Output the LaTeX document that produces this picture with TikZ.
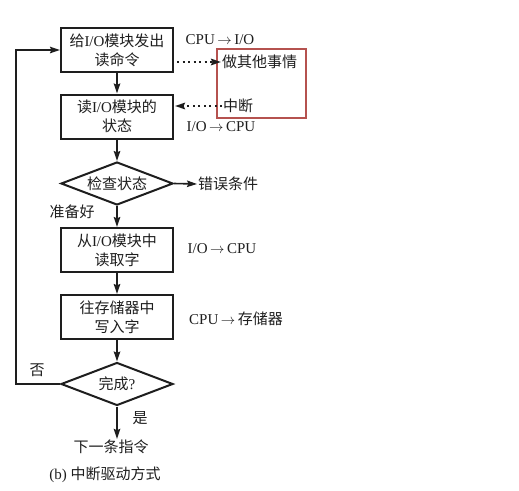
\documentclass[tikz,border=0pt]{standalone}
\usepackage{fontspec}
\setmainfont{Liberation Serif}
\newfontfamily\cjk{Noto Sans CJK SC}
\usetikzlibrary{arrows.meta,shapes.geometric}
\newcommand{\zh}[1]{{\cjk #1}}
\newcommand{\ar}{\,$\rightarrow$\,}
\definecolor{ink}{HTML}{1E1E1E}
\definecolor{redbox}{HTML}{B5524F}
\begin{document}
\begin{tikzpicture}[x=1pt,y=-1pt,
  txt/.style={font=\fontsize{15}{19}\selectfont, text=ink, inner sep=1pt},
  proc/.style={txt, draw=ink, line width=2pt, minimum width=112pt, minimum height=44pt, align=center, inner sep=0pt},
  dec/.style={txt, draw=ink, line width=2pt, diamond, aspect=2.6, minimum width=112pt, minimum height=43pt, inner sep=0pt},
  arr/.style={draw=ink, line width=1.6pt, -{Stealth[length=10pt,width=6.5pt,inset=1.5pt]}},
  dot/.style={draw=ink, line width=2pt, dash pattern=on 2pt off 3.5pt, -{Stealth[length=10pt,width=6.5pt,inset=1.5pt]}}
]
\useasboundingbox (0,0) rectangle (519,490);
\fill[white] (0,0) rectangle (519,490);

\node[proc] (b1) at (117,50) {\zh{给}I/O\zh{模块发出}\\\zh{读命令}};
\node[proc] (b2) at (117,116.5) {\zh{读}I/O\zh{模块的}\\\zh{状态}};
\node[dec] (d1) at (117,183.5) {\zh{检查状态}};
\node[proc] (b3) at (117,250) {\zh{从}I/O\zh{模块中}\\\zh{读取字}};
\node[proc] (b4) at (117,317) {\zh{往存储器中}\\\zh{写入字}};
\node[dec] (d2) at (117,384) {\zh{完成}?};
\node[txt] (nx) at (111,447) {\zh{下一条指令}};
\node[txt] (cap) at (105,475) {(b) \zh{中断驱动方式}};

\node[txt] (l1) at (220,40) {CPU\ar I/O};
\node[txt, anchor=west] (oth) at (221,62) {\zh{做其他事情}};
\node[txt, anchor=west] (zd) at (222,106) {\zh{中断}};
\node[txt] (l2) at (221,127) {I/O\ar CPU};
\node[txt, anchor=west] (err) at (197,184) {\zh{错误条件}};
\node[txt] (ok) at (72,212) {\zh{准备好}};
\node[txt] (l3) at (222,249) {I/O\ar CPU};
\node[txt] (l4) at (236,319) {CPU\ar\zh{存储器}};
\node[txt] (no) at (37,370) {\zh{否}};
\node[txt] (yes) at (140,418) {\zh{是}};

\draw[redbox, line width=1.4pt] (217,49) rectangle (306,118);

\draw[arr] (b1) -- (b2);
\draw[arr] (b2) -- (d1);
\draw[arr] (d1) -- (b3);
\draw[arr] (b3) -- (b4);
\draw[arr] (b4) -- (d2);
\draw[arr] (d2.south) -- (d2.south |- nx.north);
\draw[arr] (d1.east) -- (err.west);
\draw[dot] ([xshift=3pt]b1.east |- oth.west) -- (oth.west);
\draw[dot] (zd.west) -- ([xshift=1pt]b2.east |- zd.west);
\coordinate (lx) at (16,0);
\draw[arr] (d2.west) -- (d2.west -| lx) |- (b1.west);
\end{tikzpicture}
\end{document}
